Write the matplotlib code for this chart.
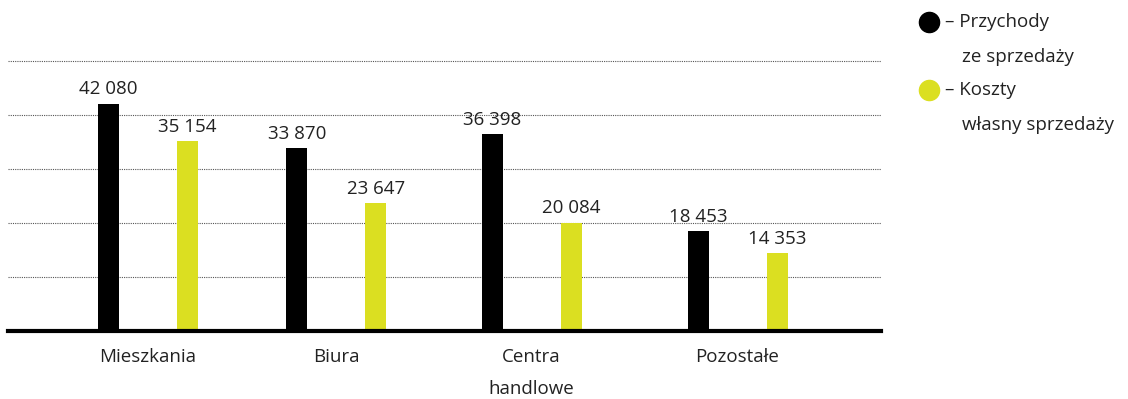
import matplotlib
matplotlib.use("Agg")
import matplotlib.pyplot as plt
from matplotlib.lines import Line2D
import numpy as np

categories = ["Mieszkania", "Biura", "Centra\nhandlowe", "Pozostałe"]
revenue = [42080, 33870, 36398, 18453]
costs = [35154, 23647, 20084, 14353]
series_labels = [("Przychody", "ze sprzedaży"), ("Koszty", "własny sprzedaży")]
grid_values = [10000, 20000, 30000, 40000, 50000]

# layout: group centre positions (category units)
group_pos = np.array([0.0, 0.959, 1.952, 3.0])

BLACK = "#000000"
YELLOW = "#dbdf21"
TEXT = "#222222"
plt.rcParams["font.family"] = ["Open Sans", "DejaVu Sans"]

W, H = 1128, 399
fig = plt.figure(figsize=(W / 100, H / 100), dpi=100)
ax = fig.add_axes([8 / W, (399 - 331) / H, (881 - 8) / W, (331 - 61) / H])

x = group_pos
bw = 0.107
off = 0.201
ax.bar(x - off, revenue, bw, color=BLACK, zorder=3)
ax.bar(x + off, costs, bw, color=YELLOW, zorder=3)

def fmt(v):
    return f"{v:,}".replace(",", " ")

FS = 13.5
for xi, v in zip(x - off, revenue):
    ax.annotate(fmt(v), (xi, v), xytext=(0, 4), textcoords="offset points",
                ha="center", va="bottom", fontsize=FS, color=TEXT)
for xi, v in zip(x + off, costs):
    ax.annotate(fmt(v), (xi, v), xytext=(0, 4), textcoords="offset points",
                ha="center", va="bottom", fontsize=FS, color=TEXT)

ax.set_xlim(-0.7125, 3.730)
ax.set_ylim(0, 50000)
for g in grid_values:
    ax.axhline(g, color="#555555", lw=0.8, ls=(0, (1, 1)), zorder=1, clip_on=False)
ax.axhline(0, color=BLACK, lw=3, zorder=4, clip_on=False)

for s in ax.spines.values():
    s.set_visible(False)
ax.set_yticks([])
ax.set_xticks(x)
ax.set_xticklabels(categories, fontsize=FS, color=TEXT, linespacing=2.05, va="top")
ax.tick_params(axis="x", length=0, pad=12)

# legend
leg_y = [22, 90]
for yy, col, (l1, l2) in zip(leg_y, [BLACK, YELLOW], series_labels):
    fig.add_artist(Line2D([929 / W], [1 - yy / H], marker="o", markersize=14.5,
                          color=col, transform=fig.transFigure))
    fig.text(945 / W, 1 - yy / H, "– " + l1, fontsize=FS, color=TEXT,
             ha="left", va="center")
    fig.text(962 / W, 1 - (yy + 35) / H, l2, fontsize=FS, color=TEXT,
             ha="left", va="center")

fig.savefig("out.png", dpi=100)
